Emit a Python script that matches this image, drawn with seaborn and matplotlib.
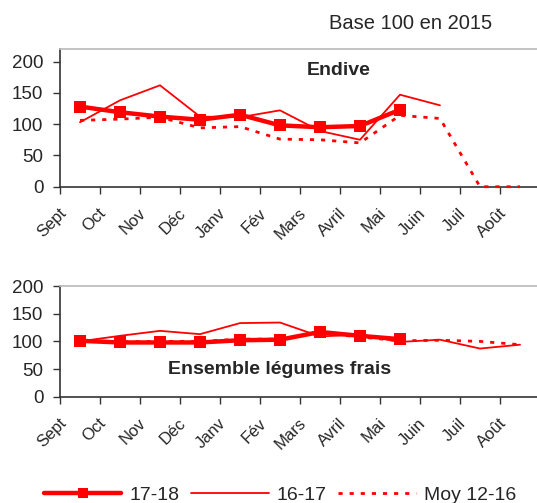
import numpy as np
import pandas as pd
import matplotlib
matplotlib.use("Agg")
import matplotlib.pyplot as plt
import seaborn as sns

# -------------------------
# Data (index base 100 en 2015)
# -------------------------
months = ["Sept", "Oct", "Nov", "Déc", "Janv", "Fév", "Mars", "Avril", "Mai", "Juin", "Juil", "Août"]

endive_1718 = [128, 119, 112, 107, 115, 98, 95, 97, 123, np.nan, np.nan, np.nan]
endive_1617 = [103, 138, 162, 112, 111, 122, 89, 75, 147, 130, np.nan, np.nan]
endive_moy = [106, 108, 111, 94, 96, 76, 75, 70, 114, 109, 0, 0]

legumes_1718 = [101, 98, 98, 98, 102, 103, 117, 110, 104, np.nan, np.nan, np.nan]
legumes_1617 = [100, 110, 119, 113, 133, 134, 109, 112, 99, 103, 87, 94]
legumes_moy = [100, 99, 100, 100, 104, 104, 115, 108, 101, 102, 100, 94]

series_names = ["17-18", "16-17", "Moy 12-16"]

sns.set_theme(style="white")
plt.rcParams["font.family"] = ["Liberation Sans", "DejaVu Sans"]

fig = plt.figure(figsize=(5.37, 5.03), dpi=100)
# the plot area runs slightly past the right edge, as in the original
ax_top = fig.add_axes([0.1117, 0.6288, 0.8939, 0.2738])
ax_bot = fig.add_axes([0.1117, 0.2113, 0.8939, 0.2201])

RED = "#ff0000"
styles = {
    "17-18": dict(lw=3.2, marker="s", markersize=9, linestyle="-", zorder=5),
    "16-17": dict(lw=1.3, marker=None, linestyle="-", zorder=4),
    "Moy 12-16": dict(lw=2.0, marker=None, linestyle=(0, (1.5, 2.5)), zorder=3),
}


def draw_panel(ax, values, title, title_xy, ymax):
    x = np.arange(len(months))
    for name, vals in zip(series_names, values):
        df = pd.DataFrame({"mois": x, "indice": vals}).dropna()
        sns.lineplot(data=df, x="mois", y="indice", ax=ax, color=RED,
                     markeredgewidth=0, clip_on=False, **styles[name])
    ax.set_xlim(-0.5, len(months) - 0.5)
    ax.set_ylim(0, ymax)
    ax.set_yticks([0, 50, 100, 150, 200])
    # tick marks on category boundaries, labels end a bit left of the centre
    ax.set_xticks(np.arange(len(months) + 1) - 0.5)
    ax.set_xticklabels([])
    ax.set_xticks(x - 0.275, minor=True)
    ax.set_xticklabels(months, minor=True, rotation=45, ha="right", va="top",
                       fontsize=12)
    ax.tick_params(axis="x", which="minor", length=0, pad=13.5)
    ax.tick_params(axis="x", which="major", length=5, width=1, color="#333333",
                   direction="out", bottom=True)
    ax.tick_params(axis="y", length=5, width=1, color="#333333", direction="out",
                   left=True, labelsize=13.5, pad=7)
    ax.set_xlabel("")
    ax.set_ylabel("")
    for side in ["left", "bottom"]:
        ax.spines[side].set_color("#333333")
        ax.spines[side].set_linewidth(1.2)
    ax.spines["top"].set_color("#bbbbbb")
    ax.spines["right"].set_visible(False)
    ax.text(title_xy[0], title_xy[1], title, transform=ax.transAxes,
            fontsize=14, fontweight="bold", ha="center", va="center")


draw_panel(ax_top, [endive_1718, endive_1617, endive_moy], "Endive", (0.581, 0.847), 220)
draw_panel(ax_bot, [legumes_1718, legumes_1617, legumes_moy], "Ensemble légumes frais",
           (0.458, 0.25), 200)

fig.text(0.916, 0.953, "Base 100 en 2015", ha="right", va="center", fontsize=14.5)

handles = [plt.Line2D([], [], color=RED, markeredgewidth=0,
                      **{k: v for k, v in styles[n].items() if k != "zorder"})
           for n in series_names]
handles[0].set_markersize(7)
fig.legend(handles, series_names, loc="center", bbox_to_anchor=(0.521, 0.016),
           ncol=3, frameon=False, fontsize=14, handlelength=4.0,
           handletextpad=0.4, columnspacing=0.6)

fig.savefig("out.png", dpi=100)
